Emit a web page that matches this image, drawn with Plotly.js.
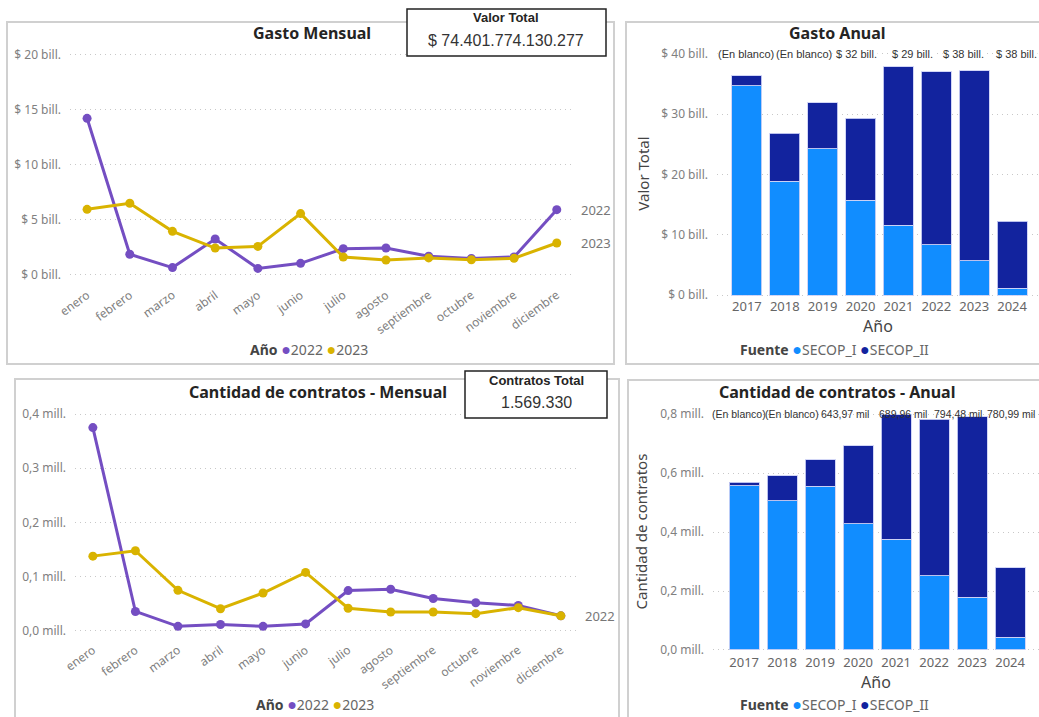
<!DOCTYPE html>
<html>
<head>
<meta charset="utf-8">
<script src="https://cdn.plot.ly/plotly-3.0.1.min.js"></script>
<style>
  html, body { margin: 0; padding: 0; background: #ffffff; }
  #chart { width: 1039px; height: 717px; }
</style>
</head>
<body>
<div id="chart"></div>
<script>
// ---------------- DATA ----------------
const months = ['enero','febrero','marzo','abril','mayo','junio','julio','agosto','septiembre','octubre','noviembre','diciembre'];
const gasto2022 = [14.24, 1.88, 0.67, 3.27, 0.60, 1.06, 2.39, 2.45, 1.70, 1.50, 1.64, 5.94];
const gasto2023 = [5.97, 6.52, 3.97, 2.45, 2.60, 5.58, 1.64, 1.36, 1.55, 1.39, 1.52, 2.91];
const contratos2022 = [0.375, 0.036, 0.0086, 0.012, 0.0086, 0.013, 0.0745, 0.077, 0.060, 0.052, 0.047, 0.028];
const contratos2023 = [0.138, 0.148, 0.075, 0.041, 0.070, 0.108, 0.042, 0.035, 0.035, 0.032, 0.043, 0.028];

const years = ['2017','2018','2019','2020','2021','2022','2023','2024'];
const gastoSecopI  = [34.70, 18.86, 24.24, 15.70, 11.54, 8.37, 5.71, 1.11];
const gastoSecopII = [1.70, 7.99, 7.66, 13.64, 26.34, 28.68, 31.50, 11.10];
const contratosSecopI  = [0.556, 0.506, 0.555, 0.428, 0.376, 0.251, 0.179, 0.043];
const contratosSecopII = [0.012, 0.084, 0.090, 0.265, 0.421, 0.532, 0.612, 0.236];

const gastoMensualTickVals = [0, 5, 10, 15, 20];
const gastoMensualTickText = ['$ 0 bill.', '$ 5 bill.', '$ 10 bill.', '$ 15 bill.', '$ 20 bill.'];
const contratosMensualTickVals = [0, 0.1, 0.2, 0.3, 0.4];
const contratosMensualTickText = ['0,0 mill.', '0,1 mill.', '0,2 mill.', '0,3 mill.', '0,4 mill.'];
const gastoAnualTickVals = [0, 10, 20, 30, 40];
const gastoAnualTickText = ['$ 0 bill.', '$ 10 bill.', '$ 20 bill.', '$ 30 bill.', '$ 40 bill.'];
const contratosAnualTickVals = [0, 0.2, 0.4, 0.6, 0.8];
const contratosAnualTickText = ['0,0 mill.', '0,2 mill.', '0,4 mill.', '0,6 mill.', '0,8 mill.'];

const gastoTotalLabels = ['(En blanco)', '(En blanco)', '$ 32 bill.', '$ 29 bill.', '$ 38 bill.', '$ 38 bill.'];
const contratosTotalLabels = ['(En blanco)', '(En blanco)', '643,97 mil', '689,96 mil', '794,48 mil', '780,99 mil'];

const valorTotal = '$ 74.401.774.130.277';
const contratosTotal = '1.569.330';
const seriesNames = ['2022', '2023'];
const fuenteNames = ['SECOP_I', 'SECOP_II'];

// ---------------- STYLE ----------------
const W = 1039, H = 717;
const fx = x => x / W;
const fy = y => 1 - y / H;
const C2022 = '#744EC2', C2023 = '#D9B300';
const CI = '#118DFF', CII = '#12239E';
const FONT = 'Noto Sans, Open Sans, sans-serif';
const NUMFONT = 'Liberation Sans, Arial, sans-serif';
const tickGray = '#808080';
const gridStyle = { showgrid: true, gridcolor: '#C8C8C8', griddash: '1px,4px', gridwidth: 1, zeroline: false, showline: false, ticks: '' };

const lineTrace = (x, y, name, color, xa, ya) => ({
  type: 'scatter', mode: 'lines+markers', x: x, y: y, name: name,
  line: { color: color, width: 3 }, marker: { color: color, size: 9 },
  xaxis: xa, yaxis: ya, showlegend: false, cliponaxis: false
});
const barTrace = (x, y, name, color, xa, ya) => ({
  type: 'bar', x: x, y: y, name: name,
  marker: { color: color, line: { color: 'rgba(205,210,245,0.9)', width: 1 } },
  xaxis: xa, yaxis: ya, showlegend: false
});

const data = [
  lineTrace(months, gasto2022, seriesNames[0], C2022, 'x', 'y'),
  lineTrace(months, gasto2023, seriesNames[1], C2023, 'x', 'y'),
  barTrace(years, gastoSecopI, fuenteNames[0], CI, 'x2', 'y2'),
  barTrace(years, gastoSecopII, fuenteNames[1], CII, 'x2', 'y2'),
  lineTrace(months, contratos2022, seriesNames[0], C2022, 'x3', 'y3'),
  lineTrace(months, contratos2023, seriesNames[1], C2023, 'x3', 'y3'),
  barTrace(years, contratosSecopI, fuenteNames[0], CI, 'x4', 'y4'),
  barTrace(years, contratosSecopII, fuenteNames[1], CII, 'x4', 'y4')
];

const monthAxis = (domain, range, anchor) => ({
  type: 'category', domain: domain, range: range, anchor: anchor,
  showgrid: false, zeroline: false, showline: false, ticks: '',
  tickangle: -36, tickfont: { family: FONT, size: 12, color: tickGray }
});
const yearAxis = (domain, range, anchor) => ({
  type: 'category', domain: domain, range: range, anchor: anchor,
  showgrid: false, zeroline: false, showline: false, ticks: '',
  tickfont: { family: FONT, size: 13, color: '#666666' },
  title: { text: 'Año', font: { family: FONT, size: 16, color: '#444444' }, standoff: 3 }
});
const valAxis = (domain, range, anchor, vals, texts, title) => Object.assign({
  domain: domain, range: range, anchor: anchor,
  tickvals: vals, ticktext: texts, ticklabelstandoff: 8,
  tickfont: { family: FONT, size: 12, color: tickGray }
}, gridStyle, title ? { title: { text: title, font: { family: FONT, size: 15, color: '#444444' }, standoff: 8 } } : {});

// annotation helpers
const txt = (x, y, text, size, color, opts) => Object.assign({
  xref: 'paper', yref: 'paper', x: fx(x), y: fy(y), text: text, showarrow: false,
  font: { family: FONT, size: size, color: color }, xanchor: 'center', yanchor: 'middle'
}, opts || {});
const dot = c => '<span style="color:' + c + ';font-size:16px">●</span>';
const legendText = (title, names, colors) =>
  '<b style="color:#444444">' + title + '</b> ' + dot(colors[0]) + names[0] + ' ' + dot(colors[1]) + names[1];

const annotations = [
  // chart titles
  txt(312, 33, '<b>Gasto Mensual</b>', 16, '#252423'),
  txt(837, 33, '<b>Gasto Anual</b>', 16, '#252423'),
  txt(318, 392, '<b>Cantidad de contratos - Mensual</b>', 16, '#252423'),
  txt(837, 392, '<b>Cantidad de contratos - Anual</b>', 16, '#252423'),
  // KPI cards
  txt(506, 17, '<b>Valor Total</b>', 13, '#252423', { font: { family: NUMFONT, size: 13, color: '#252423' } }),
  txt(506, 40, valorTotal, 16, '#333333', { font: { family: NUMFONT, size: 16, color: '#333333' } }),
  txt(536, 380, '<b>Contratos Total</b>', 13, '#252423', { font: { family: NUMFONT, size: 13, color: '#252423' } }),
  txt(536, 402, contratosTotal, 16, '#333333', { font: { family: NUMFONT, size: 16, color: '#333333' } }),
  // legends
  txt(309, 349, legendText('Año', seriesNames, [C2022, C2023]), 14, '#666666'),
  txt(315, 704, legendText('Año', seriesNames, [C2022, C2023]), 14, '#666666'),
  txt(834, 349, legendText('Fuente', fuenteNames, [CI, CII]), 14, '#666666'),
  txt(834, 704, legendText('Fuente', fuenteNames, [CI, CII]), 14, '#666666'),
  // series end labels
  { xref: 'x', yref: 'y', x: months[11], y: gasto2022[11], text: seriesNames[0], showarrow: false, xanchor: 'left', xshift: 22, font: { family: FONT, size: 13, color: '#777777' } },
  { xref: 'x', yref: 'y', x: months[11], y: gasto2023[11], text: seriesNames[1], showarrow: false, xanchor: 'left', xshift: 22, font: { family: FONT, size: 13, color: '#777777' } },
  { xref: 'x3', yref: 'y3', x: months[11], y: contratos2022[11], text: seriesNames[0], showarrow: false, xanchor: 'left', xshift: 22, font: { family: FONT, size: 13, color: '#777777' } }
];

const gastoLabelX = [746, 804, 856, 912, 963, 1016];
gastoTotalLabels.forEach((t, i) => annotations.push(txt(gastoLabelX[i], 54, t, 11, '#333333', { font: { family: NUMFONT, size: 11, color: '#333333' }, bgcolor: '#ffffff', borderpad: 0 })));
const contratosLabelX = [739, 792, 845, 903, 958, 1011];
contratosTotalLabels.forEach((t, i) => annotations.push(txt(contratosLabelX[i], 414, t, 10.5, '#333333', { font: { family: NUMFONT, size: 10.5, color: '#333333' }, borderpad: 0 })));

const rect = (x0, y0, x1, y1, line, fill, layer) => ({
  type: 'rect', xref: 'paper', yref: 'paper', x0: fx(x0), x1: fx(x1), y0: fy(y1), y1: fy(y0),
  line: line, fillcolor: fill, layer: layer
});
const panelLine = { color: '#D0D0D0', width: 2 };
const kpiLine = { color: '#222222', width: 1.5 };

const layout = {
  width: W, height: H,
  margin: { l: 0, r: 0, t: 0, b: 0 },
  paper_bgcolor: '#ffffff', plot_bgcolor: 'rgba(0,0,0,0)',
  font: { family: FONT },
  showlegend: false,
  barmode: 'stack', bargap: 0.21,
  xaxis:  monthAxis([fx(70), fx(573)], [-0.4, 11.38], 'y'),
  yaxis:  valAxis([fy(285), fy(50)], [-0.91, 20.45], 'x', gastoMensualTickVals, gastoMensualTickText),
  xaxis2: yearAxis([fx(717), 1], [-0.79, 7.71], 'y2'),
  yaxis2: valAxis([fy(297), fy(50)], [-0.33, 40.66], 'x2', gastoAnualTickVals, gastoAnualTickText, 'Valor Total'),
  xaxis3: monthAxis([fx(75), fx(580)], [-0.42, 11.45], 'y3'),
  yaxis3: valAxis([fy(640), fy(405)], [-0.0166, 0.4166], 'x3', contratosMensualTickVals, contratosMensualTickText),
  xaxis4: yearAxis([fx(713), 1], [-0.82, 7.76], 'y4'),
  yaxis4: valAxis([fy(653), fy(410)], [-0.0102, 0.8136], 'x4', contratosAnualTickVals, contratosAnualTickText, 'Cantidad de contratos'),
  shapes: [
    rect(7, 22, 614, 364, panelLine, 'rgba(0,0,0,0)', 'below'),
    rect(626, 22, 1048, 364, panelLine, 'rgba(0,0,0,0)', 'below'),
    rect(15, 379, 619, 725, panelLine, 'rgba(0,0,0,0)', 'below'),
    rect(628, 380, 1048, 725, panelLine, 'rgba(0,0,0,0)', 'below'),
    rect(407, 9, 606, 56, kpiLine, '#ffffff', 'above'),
    rect(465, 371, 607, 418, kpiLine, '#ffffff', 'above')
  ],
  annotations: annotations
};

Plotly.newPlot('chart', data, layout, { staticPlot: true, displayModeBar: false });
</script>
</body>
</html>
